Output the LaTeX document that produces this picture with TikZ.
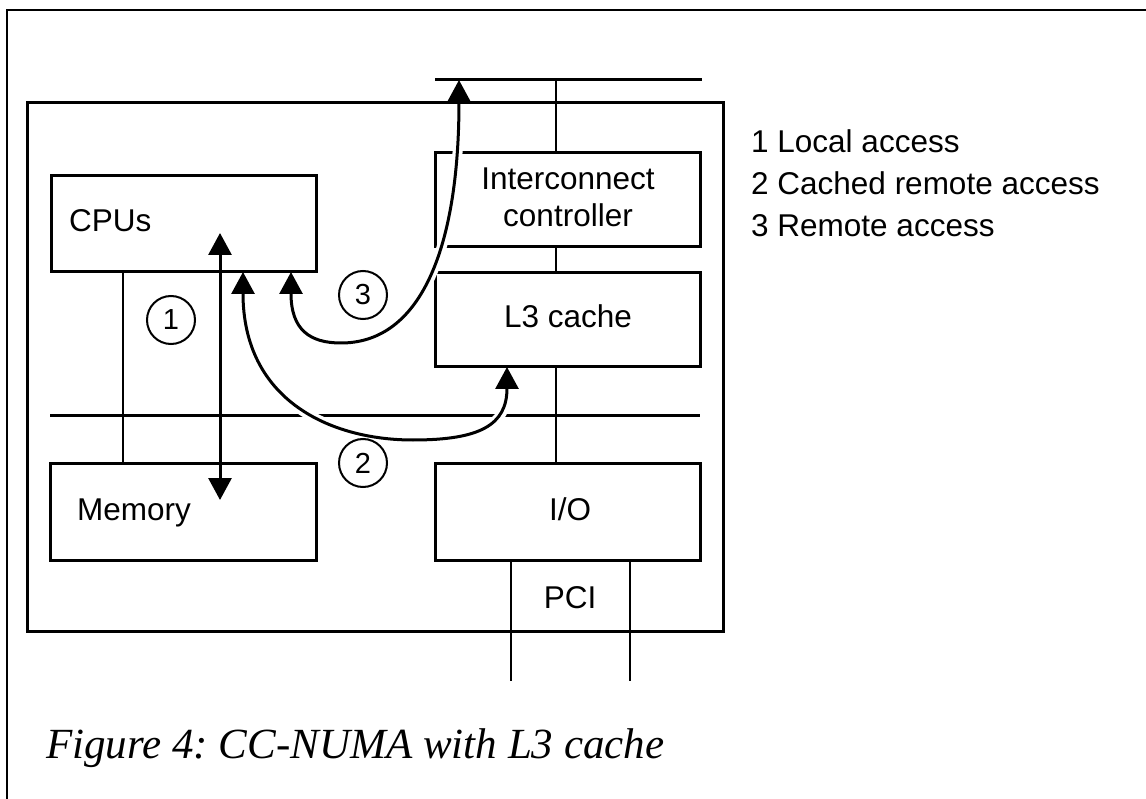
\documentclass[tikz,border=0pt]{standalone}
\usepackage{fontspec}
\setmainfont{Liberation Sans}
\newfontfamily\capfont{Liberation Serif}
\usetikzlibrary{arrows.meta}
\frenchspacing
\tikzset{
  box/.style={draw, line width=3pt, inner sep=0pt, outer sep=0pt, anchor=north west},
  bus/.style={line width=3pt},
  wire/.style={line width=2pt},
  frame/.style={line width=1.5pt},
  lbl/.style={inner sep=0pt, font=\fontsize{31.5}{31.5}\selectfont},
  num/.style={draw, circle, line width=2pt, minimum size=48pt, inner sep=0pt, font=\fontsize{29}{29}\selectfont},
  acc/.style={line width=3pt, {Triangle[length=22pt,width=23pt]}-{Triangle[length=22pt,width=23pt]}},
  halo/.style={line width=10pt, draw=white},
  legend/.style={inner sep=0pt, anchor=base west, font=\fontsize{31.5}{31.5}\selectfont}
}
\begin{document}
\begin{tikzpicture}[x=1pt, y=-1pt]
\useasboundingbox (0,0) rectangle (1146,799);
% outer frame
\coordinate (fb) at (7,799);
\coordinate (ft) at (7,10);
\coordinate (fr) at (1146,10);
\draw[frame] (fb) -- (ft) -- (fr);
% main box
\node[box, minimum width=696pt, minimum height=528pt] (main) at (27,103) {};
% boxes
\node[box, minimum width=265pt, minimum height=96pt] (cpu) at (51,176) {};
\node[box, minimum width=266pt, minimum height=97pt] (mem) at (50,463) {};
\node[box, minimum width=265pt, minimum height=94pt] (ic) at (435,153) {};
\node[box, minimum width=265pt, minimum height=94pt] (l3) at (435,273) {};
\node[box, minimum width=265pt, minimum height=97pt] (io) at (435,463) {};
% labels
\node[lbl, anchor=base west] at (69,232) {CPUs};
\node[lbl, anchor=base west] at (77,520) {Memory};
\node[lbl, anchor=base] at (568,190) {Interconnect};
\node[lbl, anchor=base] at (568,227) {controller};
\node[lbl, anchor=base] at (568,328) {L3 cache};
\node[lbl, anchor=base] at (570,520) {I/O};
\node[lbl, anchor=base] at (570,608) {PCI};
% buses
\coordinate (tb1) at (435,80);
\coordinate (tb2) at (702,80);
\draw[bus] (tb1) -- (tb2);
\coordinate (lb1) at (50,416);
\coordinate (lb2) at (700,416);
\draw[bus] (lb1) -- (lb2);
% vertical links
\coordinate (tbv) at (556,80);
\draw[wire] (tbv) -- (ic.north -| tbv);
\draw[wire] (ic.south -| tbv) -- (l3.north -| tbv);
\draw[wire] (l3.south -| tbv) -- (io.north -| tbv);
\coordinate (mv) at (123,0);
\draw[wire] (cpu.south -| mv) -- (mem.north -| mv);
% PCI
\coordinate (p1) at (511,681);
\coordinate (p2) at (630,681);
\draw[wire] (io.south -| p1) -- (p1);
\draw[wire] (io.south -| p2) -- (p2);
% access 1
\coordinate (a1t) at (220,233);
\coordinate (a1b) at (220,500);
\draw[acc] (a1t) -- (a1b);
% access 2
\coordinate (a2s) at (243,272);
\coordinate (a2m) at (413,440);
\coordinate (a2e) at (507,367);
\draw[halo, shorten <=24pt, shorten >=24pt] (a2s) .. controls (243,400) and (330,440) .. (a2m) .. controls (480,440) and (507,425) .. (a2e);
% access 3
\coordinate (a3s) at (291,272);
\coordinate (a3m) at (341,343);
\coordinate (a3e) at (459,80);
\draw[halo, shorten <=24pt, shorten >=26pt] (a3s) .. controls (291,330) and (310,343) .. (a3m) .. controls (420,343) and (459,250) .. (a3e);
\draw[acc] (a2s) .. controls (243,400) and (330,440) .. (a2m) .. controls (480,440) and (507,425) .. (a2e);
\draw[acc] (a3s) .. controls (291,330) and (310,343) .. (a3m) .. controls (420,343) and (459,250) .. (a3e);
% numbers
\node[num] (n1) at (171,320) {1};
\node[num] (n3) at (363,295) {3};
\node[num] (n2) at (363,463) {2};
% legend
\node[legend] at (751,153) {1 Local access};
\node[legend] at (751,195) {2 Cached remote access};
\node[legend] at (751,237) {3 Remote access};
% caption
\node[inner sep=0pt, anchor=base west, font=\capfont\itshape\fontsize{43}{43}\selectfont] at (46,758) {Figure 4: CC-NUMA with L3 cache};
\end{tikzpicture}
\end{document}
